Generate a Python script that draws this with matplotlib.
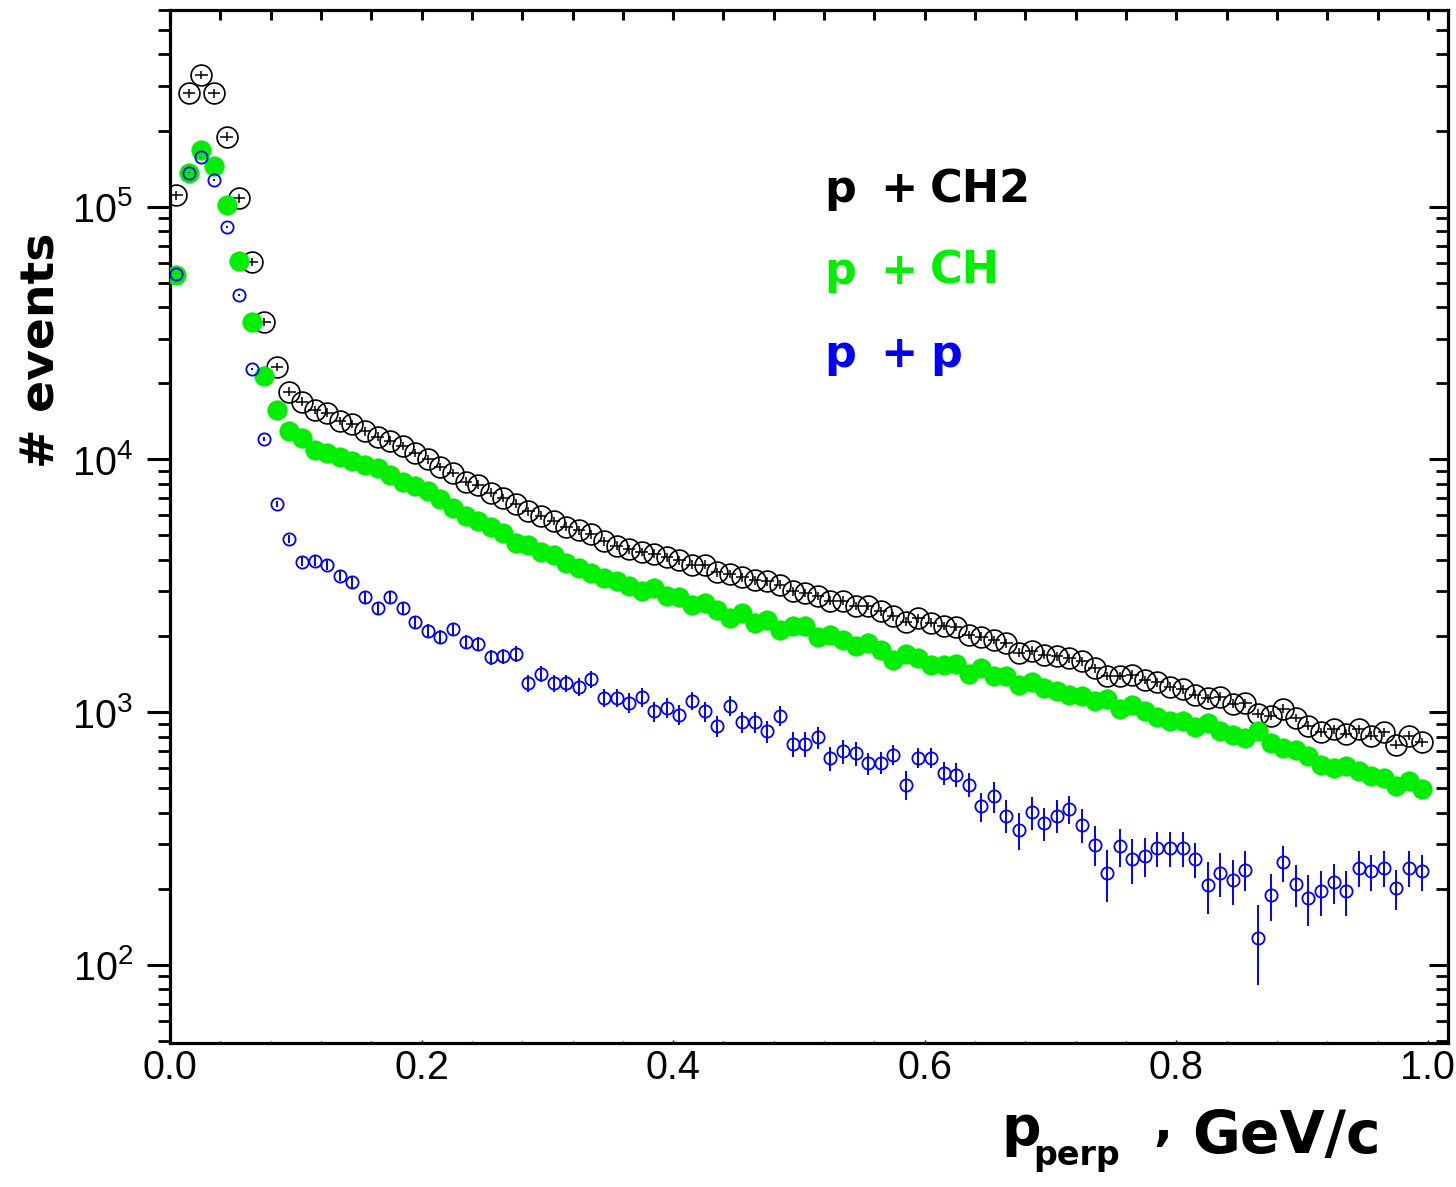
import numpy as np
import matplotlib
matplotlib.use("Agg")
import matplotlib.pyplot as plt
from matplotlib.ticker import LogLocator, NullFormatter, MultipleLocator, FixedLocator, FixedFormatter

plt.rcParams['font.family'] = ['Liberation Sans', 'DejaVu Sans']
plt.rcParams['mathtext.default'] = 'regular'

# histogram binning (p_perp, GeV/c)
bin_lo, bin_hi, n_bins = 0.0, 1.0, 100

x_ticks = [0.0, 0.2, 0.4, 0.6, 0.8, 1.0]
x_tick_labels = ['0.0', '0.2', '0.4', '0.6', '0.8', '1.0']

# p + CH2 (black open circles)
black = [1.11e5, 2.81e5, 3.32e5, 2.81e5, 1.89e5, 1.08e5, 6.04e4, 3.50e4, 2.32e4, 1.855e4,
         1.69e4, 1.57e4, 1.53e4, 1.42e4, 1.38e4, 1.29e4, 1.23e4, 1.187e4, 1.13e4, 1.06e4,
         1.00e4, 9.34e3, 8.84e3, 8.17e3, 7.93e3, 7.39e3, 7.04e3, 6.67e3, 6.22e3, 5.98e3,
         5.71e3, 5.42e3, 5.23e3, 5.06e3, 4.73e3, 4.55e3, 4.41e3, 4.30e3, 4.23e3, 4.09e3,
         3.98e3, 3.83e3, 3.83e3, 3.58e3, 3.52e3, 3.42e3, 3.32e3, 3.29e3, 3.19e3, 3.00e3,
         2.96e3, 2.88e3, 2.76e3, 2.76e3, 2.63e3, 2.63e3, 2.50e3, 2.39e3, 2.28e3, 2.35e3,
         2.26e3, 2.19e3, 2.17e3, 2.02e3, 1.99e3, 1.93e3, 1.875e3, 1.72e3, 1.75e3, 1.685e3,
         1.66e3, 1.635e3, 1.585e3, 1.49e3, 1.39e3, 1.39e3, 1.405e3, 1.34e3, 1.31e3, 1.26e3,
         1.23e3, 1.17e3, 1.136e3, 1.15e3, 1.08e3, 1.085e3, 985, 967, 1.03e3, 947,
         883, 830, 856, 821, 856, 806, 830, 743, 806, 758]

# p + CH (green filled circles)
green = [5.37e4, 1.36e5, 1.68e5, 1.45e5, 1.016e5, 6.10e4, 3.50e4, 2.14e4, 1.57e4, 1.29e4,
         1.216e4, 1.09e4, 1.06e4, 1.023e4, 9.89e3, 9.51e3, 9.26e3, 8.69e3, 8.17e3, 7.81e3,
         7.46e3, 6.98e3, 6.43e3, 5.94e3, 5.68e3, 5.42e3, 5.12e3, 4.67e3, 4.59e3, 4.30e3,
         4.20e3, 3.89e3, 3.71e3, 3.55e3, 3.39e3, 3.29e3, 3.14e3, 3.00e3, 3.09e3, 2.87e3,
         2.86e3, 2.66e3, 2.70e3, 2.54e3, 2.35e3, 2.46e3, 2.25e3, 2.32e3, 2.12e3, 2.18e3,
         2.18e3, 1.99e3, 2.02e3, 1.93e3, 1.82e3, 1.875e3, 1.76e3, 1.61e3, 1.70e3, 1.635e3,
         1.54e3, 1.54e3, 1.55e3, 1.42e3, 1.49e3, 1.39e3, 1.39e3, 1.28e3, 1.31e3, 1.245e3,
         1.21e3, 1.17e3, 1.16e3, 1.11e3, 1.125e3, 1.03e3, 1.07e3, 1.01e3, 954, 918,
         918, 873, 905, 838, 813, 789, 838, 754, 720, 710,
         671, 619, 600, 609, 582, 556, 548, 511, 531, 496]

# p + p (blue open circles)
blue = [5.42e4, 1.36e5, 1.57e5, 1.275e5, 8.31e4, 4.47e4, 2.28e4, 1.205e4, 6.67e3, 4.83e3,
        3.94e3, 3.96e3, 3.83e3, 3.46e3, 3.26e3, 2.85e3, 2.59e3, 2.85e3, 2.59e3, 2.27e3,
        2.10e3, 1.99e3, 2.13e3, 1.90e3, 1.86e3, 1.65e3, 1.66e3, 1.70e3, 1.30e3, 1.42e3,
        1.30e3, 1.30e3, 1.26e3, 1.35e3, 1.14e3, 1.14e3, 1.09e3, 1.145e3, 1.005e3, 1.04e3,
        976, 1.11e3, 1.005e3, 883, 1.06e3, 910, 910, 838, 967, 749,
        749, 796, 658, 698, 688, 628, 630, 678, 516, 658,
        658, 574, 565, 516, 423, 464, 389, 342, 401, 364,
        389, 413, 358, 299, 231, 294, 262, 270, 290, 290,
        290, 262, 207, 231, 216, 238, 128, 189, 254, 209,
        184, 195, 212, 195, 242, 234, 242, 201, 242, 234]

# relative errors
blue_rel_err = [0.005, 0.005, 0.005, 0.005, 0.006, 0.008, 0.01, 0.015, 0.03, 0.035,
                0.04, 0.045, 0.045, 0.05, 0.05, 0.05, 0.055, 0.05, 0.055, 0.06,
                0.06, 0.06, 0.06, 0.065, 0.065, 0.07, 0.07, 0.07, 0.08, 0.075,
                0.08, 0.08, 0.08, 0.08, 0.085, 0.085, 0.09, 0.085, 0.09, 0.09,
                0.09, 0.085, 0.09, 0.095, 0.09, 0.095, 0.095, 0.10, 0.09, 0.11,
                0.11, 0.10, 0.11, 0.11, 0.11, 0.10, 0.10, 0.09, 0.13, 0.09,
                0.09, 0.10, 0.11, 0.11, 0.13, 0.14, 0.15, 0.17, 0.15, 0.15,
                0.15, 0.13, 0.15, 0.18, 0.23, 0.17, 0.20, 0.18, 0.16, 0.16,
                0.16, 0.16, 0.23, 0.20, 0.20, 0.18, 0.35, 0.21, 0.16, 0.19,
                0.23, 0.20, 0.18, 0.20, 0.16, 0.16, 0.16, 0.18, 0.16, 0.16]
black_rel_err = 0.04
green_rel_err = 0.03

legend_labels = [("p", "+", "CH2"), ("p", "+", "CH"), ("p", "+", "p")]

C_BLACK = '#000000'
C_GREEN = '#00ee00'
C_BLUE = '#0000ff'

edges = np.linspace(bin_lo, bin_hi, n_bins + 1)
xc = 0.5 * (edges[:-1] + edges[1:])
half = 0.5 * (edges[1] - edges[0])
black = np.array(black); green = np.array(green); blue = np.array(blue)

W, H = 1456, 1187
fig = plt.figure(figsize=(W / 100, H / 100), dpi=100)
L, R, T, B = 170, 1448, 10, 1043
ax = fig.add_axes([L / W, 1 - B / H, (R - L) / W, (B - T) / H])

ax.errorbar(xc, black, xerr=half, yerr=black * black_rel_err, fmt='o', ms=15,
            mfc='none', mec=C_BLACK, mew=1.2, ecolor=C_BLACK, elinewidth=1.1,
            capsize=0, zorder=3)
ax.errorbar(xc, green, xerr=half, yerr=green * green_rel_err, fmt='o', ms=14,
            mfc=C_GREEN, mec=C_GREEN, mew=0.5, ecolor=C_GREEN, elinewidth=1.1,
            capsize=0, zorder=4)
ax.errorbar(xc, blue, yerr=blue * np.array(blue_rel_err), fmt='o', ms=8.8,
            mfc='none', mec=C_BLUE, mew=1.3, ecolor=C_BLUE, elinewidth=1.4,
            capsize=0, zorder=5)

ax.set_yscale('log')
ax.set_xlim(0, 1.016)
ax.set_ylim(49, 6.0e5)

for s in ax.spines.values():
    s.set_linewidth(2.3)

# left axis: outward ticks with labels
ax.yaxis.set_major_locator(LogLocator(base=10, numticks=20))
ax.yaxis.set_minor_locator(LogLocator(base=10, subs=np.arange(2, 10), numticks=20))
ax.yaxis.set_minor_formatter(NullFormatter())
ax.tick_params(axis='y', which='major', direction='out', length=16.5, width=2.2,
               labelsize=28.5, pad=10, right=False)
ax.tick_params(axis='y', which='minor', direction='out', length=8.6, width=2.0, right=False)

# bottom axis
ax.xaxis.set_major_locator(FixedLocator(x_ticks))
ax.xaxis.set_major_formatter(FixedFormatter(x_tick_labels))
ax.xaxis.set_minor_locator(MultipleLocator(0.04))
ax.tick_params(axis='x', which='major', direction='in', length=2, width=1.0,
               labelsize=28.5, pad=4, top=False)
ax.tick_params(axis='x', which='minor', direction='in', length=1.5, width=1.0, top=False)

# right axis: inward ticks
axr = ax.twinx()
axr.set_yscale('log')
axr.set_ylim(ax.get_ylim())
axr.yaxis.set_major_locator(LogLocator(base=10, numticks=20))
axr.yaxis.set_minor_locator(LogLocator(base=10, subs=np.arange(2, 10), numticks=20))
axr.tick_params(axis='y', which='major', direction='in', length=14, width=2.2, labelright=False)
axr.tick_params(axis='y', which='minor', direction='in', length=8.6, width=2.0, labelright=False)
axr.yaxis.set_minor_formatter(NullFormatter())
for s in axr.spines.values():
    s.set_visible(False)

# top axis: inward ticks
axt = ax.twiny()
axt.set_xlim(ax.get_xlim())
axt.xaxis.set_major_locator(MultipleLocator(0.04))
axt.tick_params(axis='x', which='major', direction='in', length=7, width=2.2, labeltop=False)
for s in axt.spines.values():
    s.set_visible(False)

# axis titles
lab_font = dict(family='DejaVu Sans', weight='bold')
fig.text(42 / W, 1 - 350 / H, '# events', rotation=90, ha='center', va='center',
         fontsize=34, **lab_font)
fig.text(1001 / W, 1 - 1145 / H, 'p', ha='left', va='baseline', fontsize=40, **lab_font)
fig.text(1033 / W, 1 - 1165 / H, 'perp', ha='left', va='baseline', fontsize=24, **lab_font)
fig.text(1153 / W, 1 - 1140 / H, ',', ha='left', va='baseline', fontsize=36, **lab_font)
fig.text(1192 / W, 1 - 1153 / H, 'GeV/c', ha='left', va='baseline', fontsize=42, **lab_font)

# legend texts
colors = [C_BLACK, C_GREEN, C_BLUE]
baselines = [202, 284, 367]
for (a, b, c), col, yb in zip(legend_labels, colors, baselines):
    fig.text(824 / W, 1 - yb / H, a, ha='left', va='baseline', fontsize=32, color=col, **lab_font)
    fig.text(880 / W, 1 - yb / H, b, ha='left', va='baseline', fontsize=32, color=col, **lab_font)
    fig.text(930 / W, 1 - yb / H, c, ha='left', va='baseline', fontsize=32, color=col, **lab_font)

fig.savefig('out.png', dpi=100)
